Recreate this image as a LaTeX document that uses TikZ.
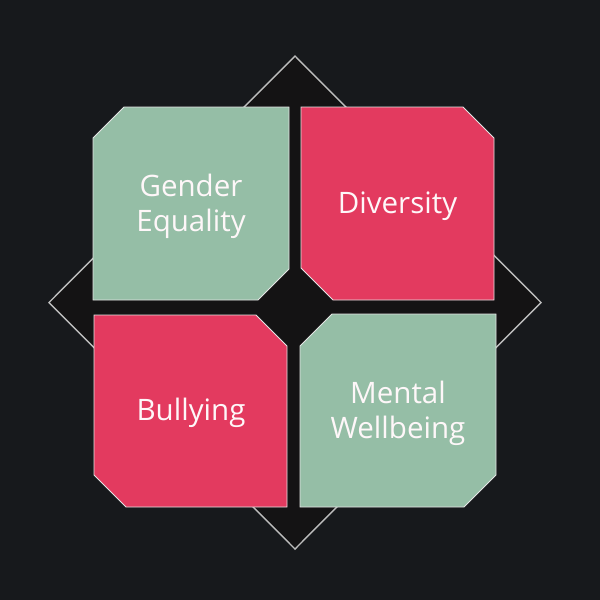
\documentclass[tikz,border=0pt]{standalone}
\usepackage{fontspec}
\setmainfont{Open Sans}
\definecolor{bgdark}{HTML}{17191C}
\definecolor{diamondfill}{HTML}{141314}
\definecolor{sage}{HTML}{95BEA6}
\definecolor{rose}{HTML}{E33A5F}
\definecolor{edgegray}{HTML}{BDBDBD}
\tikzset{
  tile/.style={draw=white!80!gray, line width=0.6pt},
  tiletext/.style={text=white!96!rose, align=center, font=\fontsize{21}{25}\selectfont}
}
\begin{document}
\begin{tikzpicture}[x=0.025cm, y=-0.025cm]
\fill[bgdark] (0,0) rectangle (600,600);
% diamond behind the four tiles
\draw[edgegray, fill=diamondfill, line width=1pt] (295,56) -- (541,302.5) -- (295,549) -- (49,302.5) -- cycle;

\draw[tile, fill=sage] (93,138) -- (124,107) -- (289,107) -- (289,269) -- (258,300) -- (93,300) -- cycle;
\node[tiletext] (Gender Equality) at (191,206) {Gender\\Equality};

\draw[tile, fill=rose] (301,107) -- (463,107) -- (494,138) -- (494,300) -- (333,300) -- (301,268) -- cycle;
\node[tiletext] (Diversity) at (397.5,206) {Diversity};

\draw[tile, fill=rose] (94,315) -- (256,315) -- (287,346) -- (287,507) -- (126,507) -- (94,475) -- cycle;
\node[tiletext] (Bullying) at (191,413) {Bullying};

\draw[tile, fill=sage] (300,346) -- (332,314) -- (496,314) -- (496,475) -- (464,507) -- (300,507) -- cycle;
\node[tiletext] (Mental Wellbeing) at (398,413) {Mental\\Wellbeing};
\end{tikzpicture}
\end{document}
